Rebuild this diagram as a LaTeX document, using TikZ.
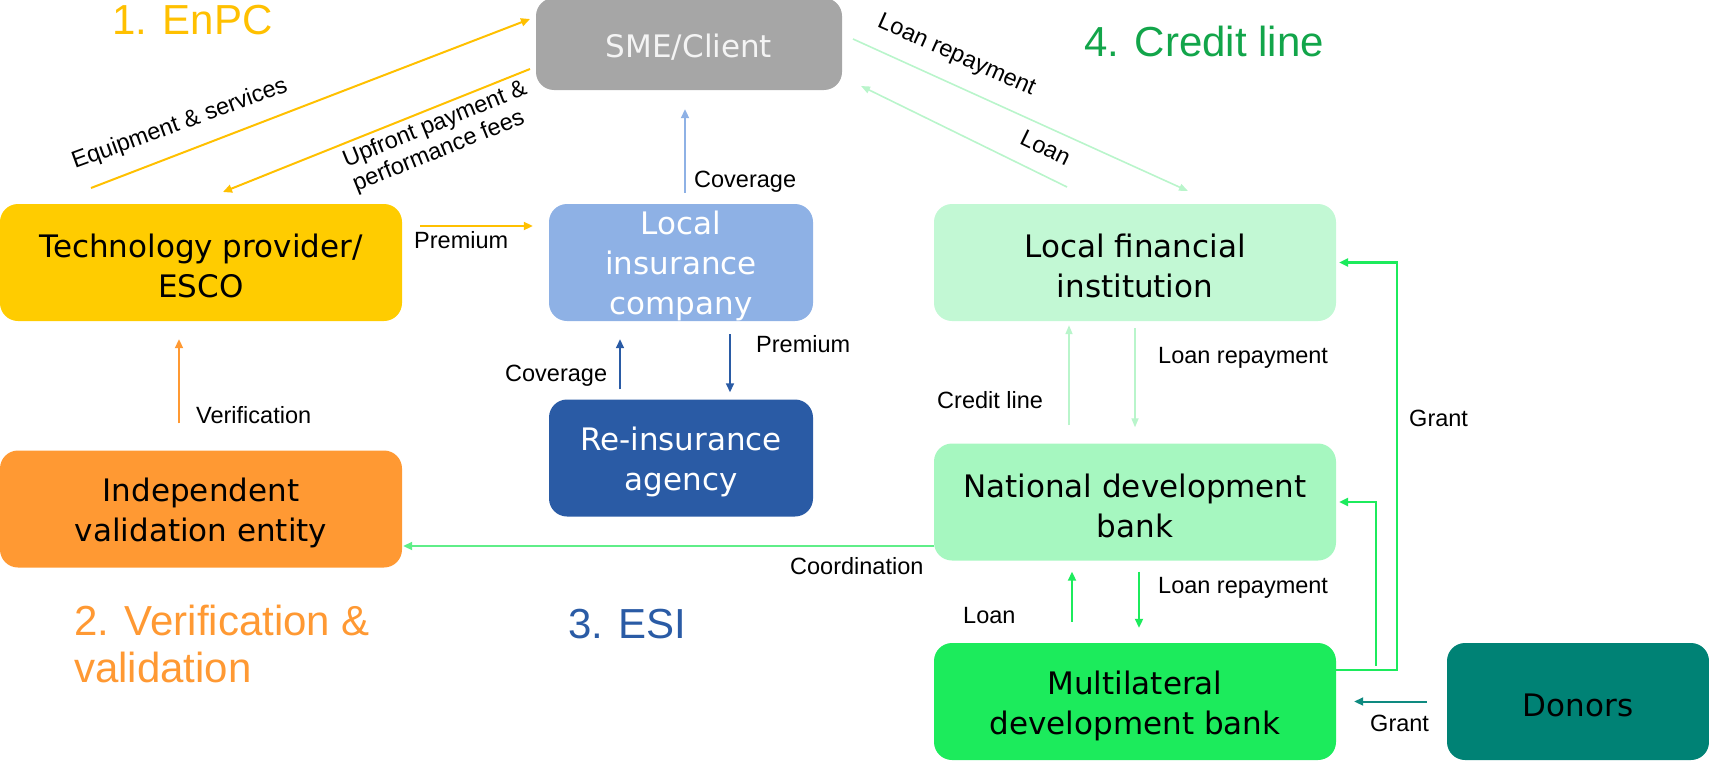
\documentclass[tikz,border=0pt]{standalone}
\usepackage{fontspec}
\setmainfont{Liberation Sans}
\newfontfamily\boxfont{DejaVu Sans}
\usetikzlibrary{arrows.meta}

% fills
\definecolor{cSME}{HTML}{A6A6A6}
\definecolor{cSMEtext}{HTML}{F4F4F4}
\definecolor{cTech}{HTML}{FFCC00}
\definecolor{cIns}{HTML}{8EB1E5}
\definecolor{cReins}{HTML}{2A5BA5}
\definecolor{cValid}{HTML}{FF9933}
\definecolor{cLFI}{HTML}{C2F8D4}
\definecolor{cNDB}{HTML}{A6F7C0}
\definecolor{cMDB}{HTML}{1CEB5C}
\definecolor{cDonor}{HTML}{008275}
% lines and headings
\definecolor{cYellow}{HTML}{FFC000}
\definecolor{cPale}{HTML}{B9F5CB}
\definecolor{cCoord}{HTML}{5FEE88}
\definecolor{cGreenHead}{HTML}{12A54A}
\definecolor{cTeal}{HTML}{0E8A80}

\begin{document}
\begin{tikzpicture}[x=1bp,y=-1bp,
  box/.style={rounded corners=18bp, inner sep=0pt,
    minimum width=402bp, minimum height=117bp},
  boxtext/.style={inner sep=0pt, align=center, text=black,
    font=\boxfont\fontsize{31bp}{40bp}\selectfont},
  lbl/.style={inner sep=0pt, anchor=base west, text=black,
    font=\fontsize{23.5bp}{26bp}\selectfont},
  rlbl/.style={inner sep=0pt, text=black, align=left,
    font=\fontsize{23.5bp}{26bp}\selectfont},
  ttl/.style={inner sep=0pt, anchor=base west,
    font=\fontsize{42bp}{47bp}\selectfont},
  flow/.style={line width=2bp, -{Triangle[length=9bp,width=8bp]}},
  thinflow/.style={line width=1.6bp, -{Triangle[length=9bp,width=7bp]}},
  grantflow/.style={line width=2.5bp, -{Triangle[length=9bp,width=8bp]}},
]
\useasboundingbox (0,0) rectangle (1709,762);

% ---- boxes
\node[box, fill=cSME, minimum width=306bp, minimum height=92bp] (sme) at (689,44) {};
\node[box, fill=cTech] (tech) at (201,262.5) {};
\node[box, fill=cIns, minimum width=264bp] (ins) at (681,262.5) {};
\node[box, fill=cReins, minimum width=264bp] (reins) at (681,458) {};
\node[box, fill=cValid] (valid) at (201,509) {};
\node[box, fill=cLFI] (lfi) at (1135,262.5) {};
\node[box, fill=cNDB] (ndb) at (1135,502) {};
\node[box, fill=cMDB] (mdb) at (1135,701.5) {};
\node[box, fill=cDonor, minimum width=262bp] (donors) at (1578,701.5) {};

% ---- box captions
\node[boxtext, text=cSMEtext] (smeT) at ([yshift=-3.5bp]sme.center) {SME/Client};
\node[boxtext] (techT) at ([yshift=-3.5bp]tech.center) {Technology provider/\\ESCO};
\node[boxtext, text=white] (insT) at ([yshift=-3.5bp]ins.center) {Local\\insurance\\company};
\node[boxtext, text=white] (reinsT) at ([yshift=-3.5bp]reins.center) {Re-insurance\\agency};
\node[boxtext] (validT) at ([yshift=-3.5bp]valid.center) {Independent\\validation entity};
\node[boxtext] (lfiT) at ([yshift=-3.5bp]lfi.center) {Local financial\\institution};
\node[boxtext] (ndbT) at ([yshift=-3.5bp]ndb.center) {National development\\bank};
\node[boxtext] (mdbT) at ([yshift=-4bp]mdb.center) {Multilateral\\development bank};
\node[boxtext] (donorsT) at ([yshift=-3.5bp]donors.center) {Donors};

% ---- headings
\node[ttl, text=cYellow] (h1) at (112,35) {1. EnPC};
\node[ttl, text=cValid] (h2a) at (74,635) {2. Verification \&};
\node[ttl, text=cValid] (h2b) at (74,682) {validation};
\node[ttl, text=cReins] (h3) at (568,638) {3. ESI};
\node[ttl, text=cGreenHead] (h4) at (1084,57) {4. Credit line};

% ---- free ends of the diagonal flows
\coordinate (eqA) at (91,188);
\coordinate (eqB) at (530,19);
\coordinate (upA) at (530,69);
\coordinate (upB) at (223,192);
\coordinate (lrA) at (853,39);
\coordinate (lrB) at (1188,191);
\coordinate (lnA) at (1067,187);
\coordinate (lnB) at (861,86);

% ---- 1. EnPC
\draw[flow, cYellow] (eqA) -- (eqB);
\draw[flow, cYellow] (upA) -- (upB);
\draw[flow, cYellow, shorten <=18bp, shorten >=16bp]
  ([yshift=36.5bp]tech.east) -- ([yshift=36.5bp]tech.east -| ins.west);
\node[rlbl, anchor=base, rotate=20] (lEq) at (182,130) {Equipment \& services};
\node[rlbl, rotate=22] (lUp) at (440,137) {Upfront payment \&\\performance fees};
\node[lbl] (lPrem1) at (414,248) {Premium};

% ---- 3. ESI
\draw[flow, cIns, shorten <=11bp, shorten >=19bp]
  ([xshift=4bp]ins.north) -- ([xshift=4bp]ins.north |- sme.south);
\node[lbl] (lCov1) at (694,187) {Coverage};
\draw[flow, cReins, line width=1.6bp, shorten <=10bp, shorten >=18bp]
  ([xshift=-61bp]reins.north) -- ([xshift=-61bp]reins.north |- ins.south);
\node[lbl] (lCov2) at (505,381) {Coverage};
\draw[flow, cReins, line width=1.6bp, shorten <=13bp, shorten >=7bp]
  ([xshift=49bp]ins.south) -- ([xshift=49bp]ins.south |- reins.north);
\node[lbl] (lPrem2) at (756,352) {Premium};

% ---- 2. Verification & validation
\draw[flow, cValid, shorten <=27bp, shorten >=18bp]
  ([xshift=-22bp]valid.north) -- ([xshift=-22bp]valid.north |- tech.south);
\node[lbl] (lVer) at (196,423) {Verification};
\draw[flow, cCoord, shorten >=1bp]
  ([yshift=-44bp]ndb.west) -- ([yshift=-44bp]ndb.west -| valid.east);
\node[lbl] (lCoord) at (790,574) {Coordination};

% ---- 4. Credit line
\draw[thinflow, cPale] (lrA) -- (lrB);
\draw[thinflow, cPale] (lnA) -- (lnB);
\node[rlbl, anchor=base, rotate=-24] (lLr1) at (954,61) {Loan repayment};
\node[rlbl, anchor=base, rotate=-26] (lLn1) at (1042,155) {Loan};

\draw[thinflow, cPale, shorten <=18bp, shorten >=4bp]
  ([xshift=-66bp]ndb.north) -- ([xshift=-66bp]ndb.north |- lfi.south);
\node[lbl] (lCred) at (937,408) {Credit line};
\draw[thinflow, cPale, shorten <=7bp, shorten >=16bp]
  (lfi.south) -- (lfi.south |- ndb.north);
\node[lbl] (lLr2) at (1158,363) {Loan repayment};

\draw[flow, cMDB, shorten <=21bp, shorten >=11bp]
  ([xshift=-63bp]mdb.north) -- ([xshift=-63bp]mdb.north |- ndb.south);
\node[lbl] (lLn2) at (963,623) {Loan};
\draw[flow, cMDB, shorten <=11bp, shorten >=15bp]
  ([xshift=4bp]ndb.south) -- ([xshift=4bp]ndb.south |- mdb.north);
\node[lbl] (lLr3) at (1158,593) {Loan repayment};

% grants
\draw[grantflow, cMDB, shorten >=3bp]
  ([yshift=31.5bp]mdb.east) -- ([yshift=31.5bp, xshift=61bp]mdb.east) |- (lfi.east);
\draw[grantflow, cMDB, shorten >=3bp]
  ([yshift=36bp, xshift=40bp]mdb.east) |- (ndb.east);
\node[lbl] (lGr1) at (1409,426) {Grant};
\draw[flow, cTeal, shorten <=20bp, shorten >=18bp] (donors.west) -- (mdb.east);
\node[lbl] (lGr2) at (1370,731) {Grant};

\end{tikzpicture}
\end{document}
